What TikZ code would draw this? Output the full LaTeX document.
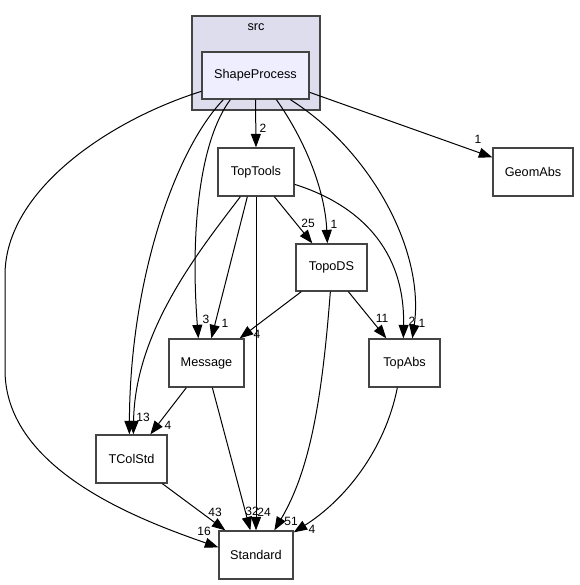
\documentclass[tikz,border=0pt]{standalone}
\usepackage{fontspec}
\setmainfont{Liberation Sans}
\usetikzlibrary{arrows.meta,calc}
\definecolor{clusterfill}{HTML}{DDDDEE}
\definecolor{spfill}{HTML}{EEEEFF}
\definecolor{border}{HTML}{444444}
\begin{document}
\begin{tikzpicture}[x=1pt,y=-1pt,
  dirbox/.style={draw=border, line width=1.3pt, fill=white, inner sep=0pt,
    font=\fontsize{12.7}{14}\selectfont},
  lab/.style={inner sep=0pt, font=\fontsize{12}{13}\selectfont},
  dep/.style={draw=black, line width=1pt, -{Triangle[length=13.5pt,width=10pt]}}]
\useasboundingbox (0,0) rectangle (579,585);
% cluster
\node[draw=border, line width=1.3pt, fill=clusterfill, minimum width=128pt, minimum height=94pt, inner sep=0pt] (srcbox) at (256,63) {};
\node[lab, font=\fontsize{12.7}{14}\selectfont] (srclab) at (256,27) {src};
% nodes
\node[dirbox, fill=spfill, minimum width=107pt, minimum height=47pt] (sp) at (255.5,75.5) {ShapeProcess};
\node[dirbox, minimum width=76pt, minimum height=48pt] (tt) at (256,172) {TopTools};
\node[dirbox, minimum width=80pt, minimum height=48pt] (ga) at (533,172) {GeomAbs};
\node[dirbox, minimum width=71pt, minimum height=47pt] (tds) at (331.5,267.5) {TopoDS};
\node[dirbox, minimum width=75pt, minimum height=48pt] (msg) at (206.5,363) {Message};
\node[dirbox, minimum width=71pt, minimum height=48pt] (ta) at (404.5,363) {TopAbs};
\node[dirbox, minimum width=71pt, minimum height=48pt] (tcs) at (131.5,459) {TColStd};
\node[dirbox, minimum width=74pt, minimum height=48pt] (std) at (256,555) {Standard};
% edges from ShapeProcess
\draw[dep] (sp.south) -- (tt.north);
\draw[dep] ($(sp.north east)+(0,41)$) -- ($(ga.north west)+(0,10)$);
\draw[dep] ($(sp.north west)+(0,40)$) .. controls (110,120) and (5,190) .. (5,275)
   -- (5,370) .. controls (5,470) and (140,520) .. ($(std.north west)+(0,17)$);
\draw[dep] ($(sp.south west)+(22,0)$) .. controls (175,150) and (130,280) .. ($(tcs.north west)+(34,0)$);
\draw[dep] ($(sp.south west)+(29,0)$) .. controls (200,140) and (190,230) .. ($(msg.north west)+(30,0)$);
\draw[dep] ($(sp.south west)+(75,0)$) .. controls (305,140) and (325,190) .. ($(tds.north west)+(32,0)$);
\draw[dep] ($(sp.south west)+(89,0)$) .. controls (370,150) and (425,250) .. ($(ta.north west)+(44,0)$);
% edges from TopTools
\draw[dep] ($(tt.south west)+(30,0)$) -- ($(msg.north west)+(43,0)$);
\draw[dep] ($(tt.south west)+(23,0)$) .. controls (200,250) and (135,330) .. ($(tcs.north west)+(38,0)$);
\draw[dep] (tt.south) -- (std.north);
\draw[dep] ($(tt.south west)+(57,0)$) -- ($(tds.north west)+(17,0)$);
\draw[dep] ($(tt.north east)+(0,37)$) .. controls (360,205) and (405,250) .. ($(ta.north west)+(35,0)$);
% edges from TopoDS
\draw[dep] ($(tds.south west)+(6,0)$) -- ($(msg.north east)+(-5,0)$);
\draw[dep] ($(tds.south west)+(53,0)$) -- ($(ta.north west)+(18,0)$);
\draw[dep] ($(tds.south west)+(35,0)$) .. controls (322,400) and (310,470) .. ($(std.north west)+(56,0)$);
% edges from Message
\draw[dep] ($(msg.south west)+(18,0)$) -- ($(tcs.north west)+(55,0)$);
\draw[dep] ($(msg.south west)+(44,0)$) -- ($(std.north west)+(32,0)$);
% edge from TopAbs
\draw[dep] ($(ta.south west)+(29,0)$) .. controls (385,450) and (345,500) .. ($(std.north east)+(0,2)$);
% edge from TColStd
\draw[dep] ($(tcs.south west)+(67,0)$) -- ($(std.north west)+(7,0)$);
% labels
\node[lab] (l1) at (263,128) {2};
\node[lab] (l2) at (478,139) {1};
\node[lab] (l3) at (204,531) {16};
\node[lab] (l4) at (143,417) {13};
\node[lab] (l5) at (206,319) {3};
\node[lab] (l6) at (225,323) {1};
\node[lab] (l7) at (308,223) {25};
\node[lab] (l8) at (334,224) {1};
\node[lab] (l9) at (257,334) {4};
\node[lab] (l10) at (382,318) {11};
\node[lab] (l11) at (412,321) {2};
\node[lab] (l12) at (422,323) {1};
\node[lab] (l13) at (168,425) {4};
\node[lab] (l14) at (215,512) {43};
\node[lab] (l15) at (252,511) {32};
\node[lab] (l16) at (264,512) {24};
\node[lab] (l17) at (291,521) {51};
\node[lab] (l18) at (312,529) {4};
\end{tikzpicture}
\end{document}
